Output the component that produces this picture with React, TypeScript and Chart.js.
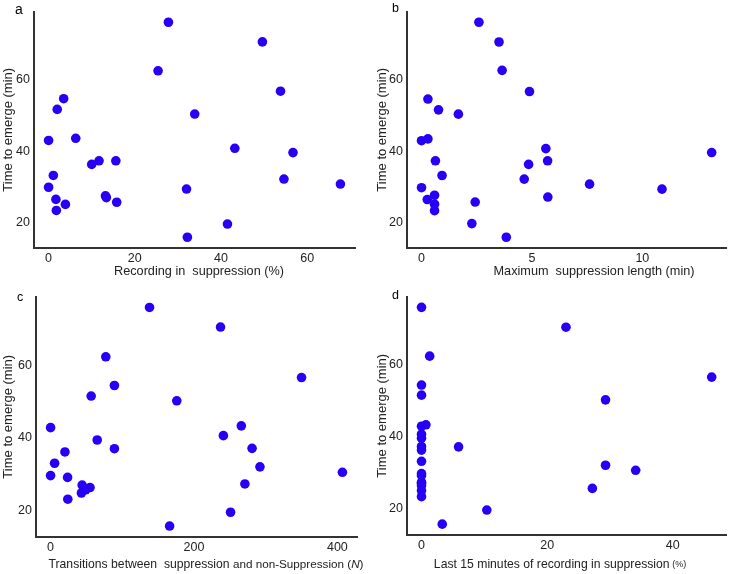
import React, { useEffect, useRef } from "react";
import { Chart, registerables } from "chart.js";

Chart.register(...registerables);

// ---------- data ----------
const yTicks = [20, 40, 60];

// a: Recording in suppression (%)
const recordingPct = [27.8, 49.6, 25.4, 53.8, 3.5, 2.0, 33.9, 0.0, 6.3, 43.2, 56.7, 10.0, 11.7, 15.6, 1.1, 54.6, 0.0, 32.0, 67.7, 1.7, 13.2, 13.4, 3.9, 15.8, 1.8, 41.5, 32.2];
const emergeA = [76.1, 70.6, 62.5, 56.8, 54.7, 51.7, 50.4, 43.0, 43.6, 40.8, 39.6, 36.3, 37.3, 37.3, 33.2, 32.2, 29.9, 29.4, 30.8, 26.5, 27.5, 27.0, 25.1, 25.7, 23.4, 19.6, 15.9];
const ticksA = [0, 20, 40, 60];

// b: Maximum suppression length (min)
const maxSuppression = [2.6, 3.51, 3.65, 4.89, 0.29, 0.77, 1.67, 0.0, 0.29, 5.63, 13.14, 0.63, 5.71, 4.85, 0.93, 4.65, 0.0, 10.89, 7.61, 0.26, 0.59, 5.72, 2.43, 0.59, 0.59, 2.28, 3.84];
const emergeB = [75.9, 70.4, 62.5, 56.6, 54.5, 51.5, 50.3, 42.9, 43.4, 40.7, 39.6, 37.3, 37.3, 36.3, 33.2, 32.2, 29.8, 29.4, 30.8, 26.5, 27.7, 27.2, 25.8, 25.2, 23.4, 19.8, 16.0];
const ticksB = [0, 5, 10];

// c: Transitions between suppression and non-suppression (N)
const transitions = [138, 237, 77, 350, 89, 56.6, 176, 0, 266, 241, 65, 89, 281, 20, 5.6, 292, 0, 23.7, 407, 44, 271, 55, 49, 43, 24, 251, 166];
const emergeC = [75.9, 70.5, 62.3, 56.6, 54.4, 51.5, 50.2, 42.8, 43.3, 40.6, 39.4, 37.0, 37.1, 36.1, 33.0, 32.0, 29.6, 29.1, 30.5, 27.0, 27.3, 26.3, 25.7, 24.8, 23.1, 19.5, 15.7];
const ticksC = [0, 200, 400];

// d: Last 15 minutes of recording in suppression (%)
const last15Pct = [0, 23.0, 1.3, 46.2, 0, 0, 29.3, 0, 0.7, 0, 0, 0, 5.9, 0, 0, 29.3, 0, 0, 34.1, 0, 0, 0, 27.2, 0, 0, 10.4, 3.3];
const emergeD = [75.7, 70.2, 62.2, 56.4, 54.2, 51.4, 50.1, 42.8, 43.2, 40.6, 39.5, 37.2, 37.1, 36.2, 33.1, 32.0, 29.7, 29.2, 30.6, 27.0, 27.3, 26.4, 25.6, 25.0, 23.3, 19.6, 15.7];
const ticksD = [0, 20, 40];

const yTitle = "Time to emerge (min)";

// ---------- layout ----------
const FONT = "'Liberation Sans', Arial, Helvetica, sans-serif";
const POINT_COLOR = "rgb(38,0,245)";
const AXIS_COLOR = "#333333";
const TEXT_COLOR = "#222222";

type Seg = { text: string; size: number; italic?: boolean };
type Panel = {
  letter: string;
  xs: number[];
  ys: number[];
  xTicks: number[];
  box: { left: number; top: number; width: number; height: number };
  area: { left: number; top: number; right: number; bottom: number };
  xTitle: Seg[];
  xTitleCx: number;
  xTitleCy: number;
  yTitleCx: number;
  letterX: number;
  letterY: number;
  letterSize: number;
};

const panels: Panel[] = [
  {
    letter: "a",
    xs: recordingPct,
    ys: emergeA,
    xTicks: ticksA,
    box: { left: 0, top: 0, width: 365, height: 285 },
    area: { left: 34, top: 2, right: 355, bottom: 248 },
    xTitle: [{ text: "Recording in  suppression (%)", size: 12.7 }],
    xTitleCx: 199,
    xTitleCy: 271,
    yTitleCx: 8,
    letterX: 15,
    letterY: 5,
    letterSize: 14,
  },
  {
    letter: "b",
    xs: maxSuppression,
    ys: emergeB,
    xTicks: ticksB,
    box: { left: 365, top: 0, width: 366, height: 285 },
    area: { left: 42, top: 2, right: 363, bottom: 248 },
    xTitle: [{ text: "Maximum  suppression length (min)", size: 12.7 }],
    xTitleCx: 594 - 365,
    xTitleCy: 271,
    yTitleCx: 17,
    letterX: 27,
    letterY: 4,
    letterSize: 12.5,
  },
  {
    letter: "c",
    xs: transitions,
    ys: emergeC,
    xTicks: ticksC,
    box: { left: 0, top: 285, width: 365, height: 289 },
    area: { left: 36, top: 5, right: 357, bottom: 252 },
    xTitle: [
      { text: "Transitions between  suppression", size: 12.2 },
      { text: " and non-Suppression (", size: 11.7 },
      { text: "N", size: 11.7, italic: true },
      { text: ")", size: 11.7 },
    ],
    xTitleCx: 206,
    xTitleCy: 280,
    yTitleCx: 8,
    letterX: 17,
    letterY: 8,
    letterSize: 12.5,
  },
  {
    letter: "d",
    xs: last15Pct,
    ys: emergeD,
    xTicks: ticksD,
    box: { left: 365, top: 285, width: 366, height: 289 },
    area: { left: 42, top: 4, right: 363, bottom: 250 },
    xTitle: [
      { text: "Last 15 minutes of recording in suppression", size: 12.2 },
      { text: " (%)", size: 9 },
    ],
    xTitleCx: 560 - 365,
    xTitleCy: 280,
    yTitleCx: 17,
    letterX: 27,
    letterY: 6,
    letterSize: 12.5,
  },
];

function expand(values: number[]) {
  const lo = Math.min(...values);
  const hi = Math.max(...values);
  const pad = (hi - lo) * 0.05;
  return { min: lo - pad, max: hi + pad };
}

function segFont(s: Seg) {
  return `${s.italic ? "italic " : ""}${s.size}px ${FONT}`;
}

function PanelChart({ p }: { p: Panel }) {
  const ref = useRef<HTMLCanvasElement | null>(null);
  useEffect(() => {
    const canvas = ref.current;
    if (!canvas) return;
    const xr = expand(p.xs);
    const yr = expand(p.ys);
    const overlay = {
      id: "overlay" + p.letter,
      afterDraw(chart: any) {
        const ctx = chart.ctx as CanvasRenderingContext2D;
        const a = chart.chartArea;
        ctx.save();
        ctx.fillStyle = TEXT_COLOR;
        ctx.textBaseline = "middle";
        // x title (rich)
        let total = 0;
        const widths = p.xTitle.map((s) => {
          ctx.font = segFont(s);
          const w = ctx.measureText(s.text).width;
          total += w;
          return w;
        });
        let x = p.xTitleCx - total / 2;
        ctx.textAlign = "left";
        p.xTitle.forEach((s, i) => {
          ctx.font = segFont(s);
          ctx.fillText(s.text, x, p.xTitleCy);
          x += widths[i];
        });
        // panel letter
        ctx.textBaseline = "top";
        ctx.font = `${p.letterSize}px ${FONT}`;
        ctx.fillStyle = "#000";
        ctx.fillText(p.letter, p.letterX, p.letterY - 2);
        // y title
        ctx.fillStyle = TEXT_COLOR;
        ctx.translate(p.yTitleCx, (a.top + a.bottom) / 2);
        ctx.rotate(-Math.PI / 2);
        ctx.textAlign = "center";
        ctx.textBaseline = "middle";
        ctx.font = `13px ${FONT}`;
        ctx.fillText(yTitle, 0, 0);
        ctx.restore();
      },
    };
    const chart = new Chart(canvas, {
      type: "scatter",
      data: {
        datasets: [
          {
            data: p.xs.map((v, i) => ({ x: v, y: p.ys[i] })),
            backgroundColor: POINT_COLOR,
            borderWidth: 0,
            pointRadius: 4.8,
            pointHoverRadius: 4.8,
          },
        ],
      },
      options: {
        animation: false,
        responsive: false,
        events: [],
        layout: {
          padding: {
            left: 0,
            top: p.area.top,
            right: p.box.width - p.area.right,
            bottom: 0,
          },
        },
        plugins: {
          legend: { display: false },
          tooltip: { enabled: false },
        },
        scales: {
          x: {
            type: "linear",
            min: xr.min,
            max: xr.max,
            grid: { display: false, drawTicks: false },
            border: { display: true, color: AXIS_COLOR, width: 2 },
            ticks: {
              color: TEXT_COLOR,
              font: { family: FONT, size: 12.5 },
              padding: 3,
              maxRotation: 0,
            },
            afterBuildTicks: (scale: any) => {
              scale.ticks = p.xTicks.map((v) => ({ value: v }));
            },
            afterFit: (scale: any) => {
              scale.height = p.box.height - p.area.bottom;
            },
          },
          y: {
            type: "linear",
            min: yr.min,
            max: yr.max,
            grid: { display: false, drawTicks: false },
            border: { display: true, color: AXIS_COLOR, width: 2 },
            ticks: {
              color: TEXT_COLOR,
              font: { family: FONT, size: 12.5 },
              padding: 4,
            },
            afterBuildTicks: (scale: any) => {
              scale.ticks = yTicks.map((v) => ({ value: v }));
            },
            afterFit: (scale: any) => {
              scale.width = p.area.left;
            },
          },
        },
      },
      plugins: [overlay],
    });
    return () => chart.destroy();
  }, [p]);
  return (
    <canvas
      ref={ref}
      width={p.box.width}
      height={p.box.height}
      style={{
        position: "absolute",
        left: p.box.left,
        top: p.box.top,
        width: p.box.width,
        height: p.box.height,
        display: "block",
      }}
    />
  );
}

export default function App() {
  return (
    <div
      style={{
        position: "absolute",
        left: 0,
        top: 0,
        width: 731,
        height: 574,
        background: "#ffffff",
      }}
    >
      {panels.map((p) => (
        <PanelChart key={p.letter} p={p} />
      ))}
    </div>
  );
}
